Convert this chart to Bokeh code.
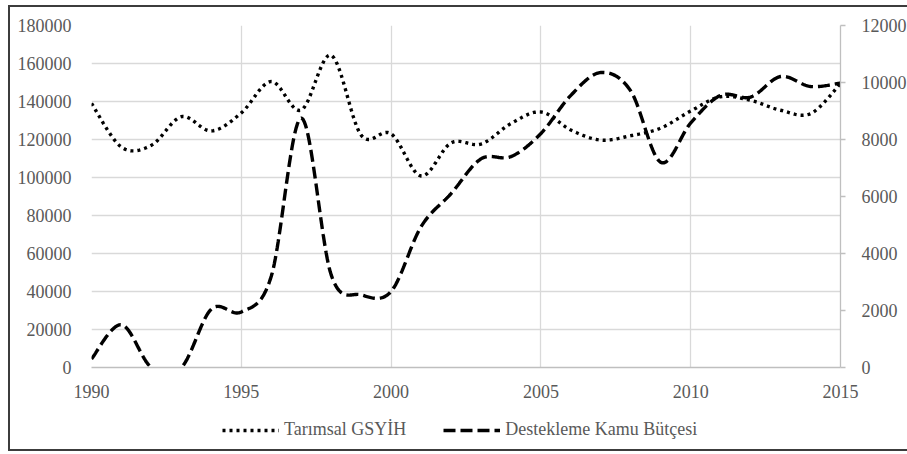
from bokeh.plotting import figure
from bokeh.models import (Range1d, LinearAxis, SingleIntervalTicker, BasicTickFormatter,
                          Legend, LegendItem)
from bokeh.layouts import column
from bokeh.embed import file_html
from bokeh.resources import INLINE
import numpy as np

years = list(range(1990, 2016))
tarimsal_gsyih = [139000, 116000, 117000, 132000, 124500, 134000, 150500, 135500, 164300, 122300,
                  123000, 100800, 118200, 117600, 128400, 134500, 125000, 119700, 122000, 126000,
                  135000, 142500, 140600, 135400, 133600, 149400]
destekleme = [300, 1500, 0, 0, 2050, 1950, 3200, 8750, 3250, 2550,
              2670, 4940, 6100, 7320, 7400, 8210, 9550, 10350, 9700, 7200,
              8580, 9550, 9490, 10210, 9860, 9980]
series_names = ["Tarımsal GSYİH", "Destekleme Kamu Bütçesi"]

x_ticks_interval = 5
left_interval = 20000
right_interval = 2000


def smooth(xs, ys, n=30):
    xs = np.asarray(xs, float)
    ys = np.asarray(ys, float)
    px = np.concatenate([[xs[0]], xs, [xs[-1]]])
    py = np.concatenate([[ys[0]], ys, [ys[-1]]])
    ox, oy = [], []
    t = np.linspace(0, 1, n, endpoint=False)
    for i in range(1, len(px) - 2):
        p0x, p1x, p2x, p3x = px[i - 1], px[i], px[i + 1], px[i + 2]
        p0y, p1y, p2y, p3y = py[i - 1], py[i], py[i + 1], py[i + 2]
        c1x = p1x + (p2x - p0x) / 6
        c1y = p1y + (p2y - p0y) / 6
        c2x = p2x - (p3x - p1x) / 6
        c2y = p2y - (p3y - p1y) / 6
        b0 = (1 - t) ** 3
        b1 = 3 * (1 - t) ** 2 * t
        b2 = 3 * (1 - t) * t ** 2
        b3 = t ** 3
        ox.extend(b0 * p1x + b1 * c1x + b2 * c2x + b3 * p2x)
        oy.extend(b0 * p1y + b1 * c1y + b2 * c2y + b3 * p2y)
    ox.append(xs[-1])
    oy.append(ys[-1])
    return ox, oy


FONT = "Liberation Serif"
FS = "18px"
TXT = "#595959"
GRID = "#d9d9d9"
AX = "#bfbfbf"
BORDER = "#3c3c3c"

W = 899
p = figure(width=W, height=393, x_range=Range1d(1990, 2015), y_range=Range1d(0, 180000),
           output_backend="svg", toolbar_location=None,
           min_border_left=81, min_border_right=W - 833, min_border_top=18, min_border_bottom=32)
p.outline_line_color = None
p.background_fill_color = "white"
p.border_fill_color = "white"
p.extra_y_ranges = {"r": Range1d(0, 12000)}

# grid
p.xgrid.ticker = SingleIntervalTicker(interval=x_ticks_interval)
p.ygrid.ticker = SingleIntervalTicker(interval=left_interval)
for g in (p.xgrid, p.ygrid):
    g.grid_line_color = GRID
    g.grid_line_width = 1.3

# x axis
xa = p.xaxis[0]
xa.ticker = SingleIntervalTicker(interval=x_ticks_interval)
xa.axis_line_color = AX
xa.axis_line_width = 1.3
xa.major_tick_line_color = None
xa.minor_tick_line_color = None
xa.major_tick_out = 0
xa.major_tick_in = 0
xa.major_label_standoff = 13
xa.major_label_text_font = FONT
xa.major_label_text_font_size = FS
xa.major_label_text_color = TXT

# left axis
ya = p.yaxis[0]
ya.ticker = SingleIntervalTicker(interval=left_interval)
ya.formatter = BasicTickFormatter(use_scientific=False)
ya.axis_line_color = None
ya.major_tick_line_color = None
ya.minor_tick_line_color = None
ya.major_tick_out = 0
ya.major_tick_in = 0
ya.major_label_standoff = 16
ya.major_label_text_font = FONT
ya.major_label_text_font_size = FS
ya.major_label_text_color = TXT

# right axis
ra = LinearAxis(y_range_name="r", ticker=SingleIntervalTicker(interval=right_interval),
                formatter=BasicTickFormatter(use_scientific=False))
ra.axis_line_color = AX
ra.axis_line_width = 1.3
ra.major_tick_line_color = AX
ra.major_tick_line_width = 1.3
ra.major_tick_out = 5
ra.major_tick_in = 0
ra.minor_tick_line_color = None
ra.major_label_standoff = 16
ra.major_label_text_font = FONT
ra.major_label_text_font_size = FS
ra.major_label_text_color = TXT
p.add_layout(ra, "right")

DOT = dict(line_color="black", line_width=3.4, line_dash="3 4", line_cap="butt")
DASH = dict(line_color="black", line_width=3.4, line_dash="12 5", line_cap="butt")

sx1, sy1 = smooth(years, tarimsal_gsyih)
sx2, sy2 = smooth(years, destekleme)
p.line(sx1, sy1, **DOT)
p.line(sx2, sy2, y_range_name="r", **DASH)

# legend strip below the chart (its frame is aligned with the chart's frame)
pl = figure(width=W, height=49, x_range=Range1d(0, 1), y_range=Range1d(0, 1),
            output_backend="svg", toolbar_location=None,
            x_axis_location=None, y_axis_location=None,
            min_border_left=0, min_border_right=0, min_border_top=0, min_border_bottom=0)
pl.outline_line_color = None
pl.grid.visible = False
pl.background_fill_color = "white"
pl.border_fill_color = "white"
l1 = pl.line(x=[np.nan], y=[np.nan], **DOT)
l2 = pl.line(x=[np.nan], y=[np.nan], **DASH)

legend = Legend(items=[LegendItem(label=series_names[0], renderers=[l1]),
                       LegendItem(label=series_names[1], renderers=[l2])],
                orientation="horizontal", location=(131, 9),
                glyph_width=57, glyph_height=14, label_standoff=5, spacing=37,
                padding=0, margin=0, border_line_color=None, background_fill_alpha=0,
                label_text_font=FONT, label_text_font_size=FS, label_text_color=TXT)
pl.add_layout(legend)

layout = column(p, pl, spacing=0,
                styles={"margin-left": "8px", "margin-top": "5px",
                        "border-left": f"2px solid {BORDER}",
                        "border-top": f"2px solid {BORDER}",
                        "border-bottom": f"2px solid {BORDER}"})

open("out.html", "w").write(file_html(layout, INLINE))
